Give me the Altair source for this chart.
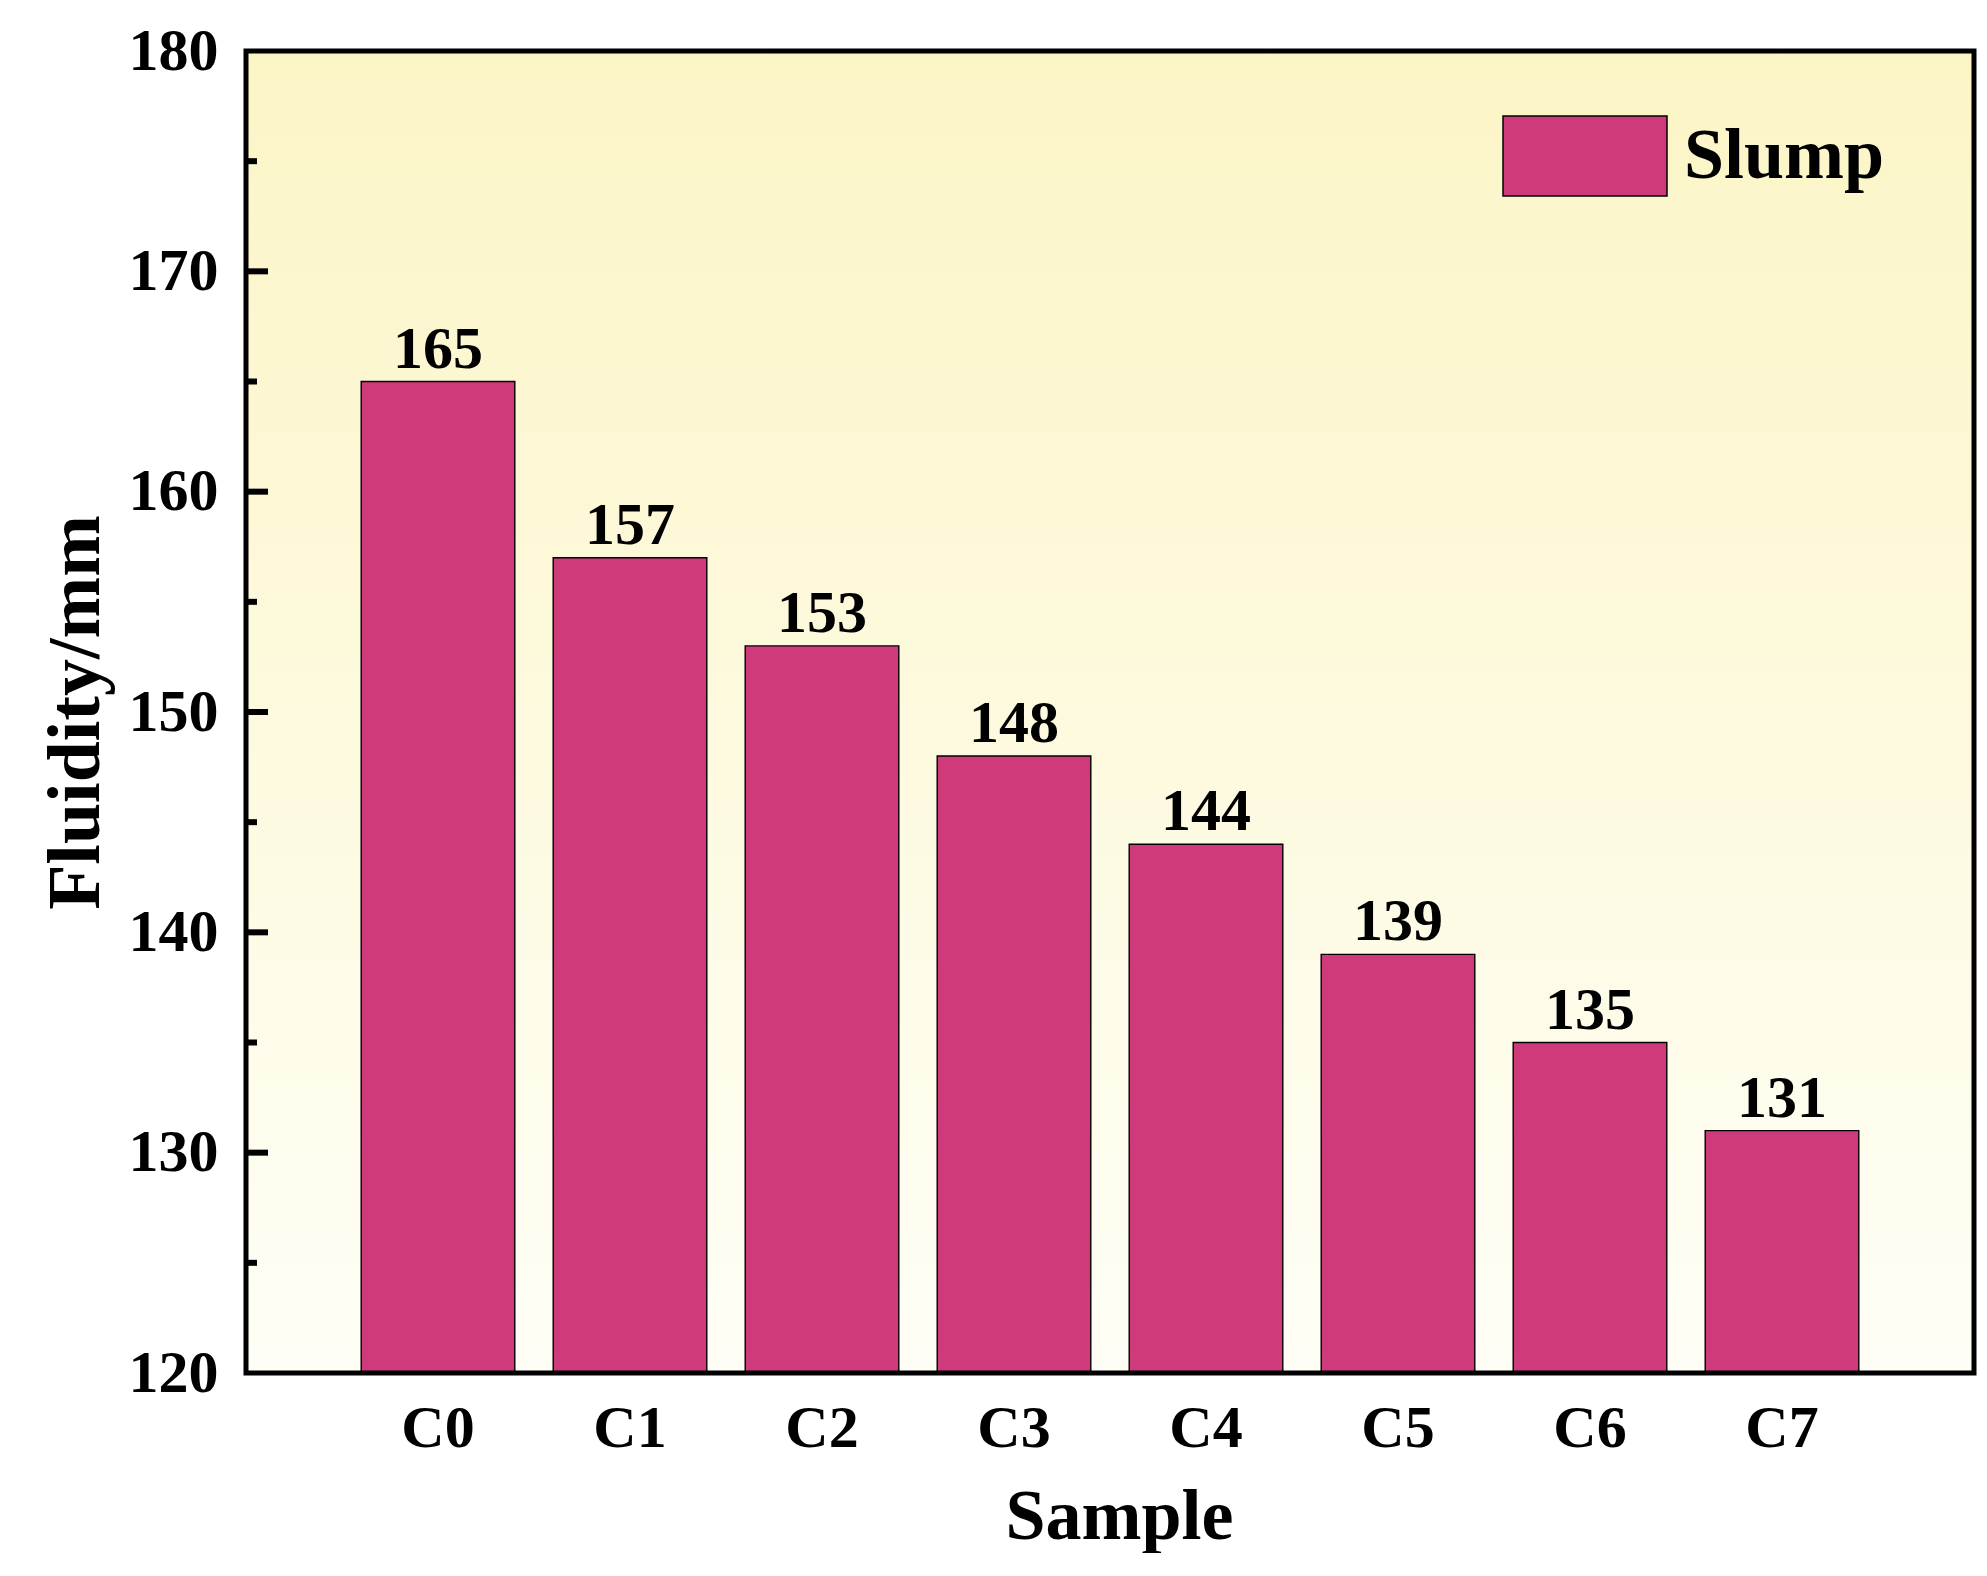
import altair as alt
import pandas as pd

samples = ["C0", "C1", "C2", "C3", "C4", "C5", "C6", "C7"]
fluidity = [165, 157, 153, 148, 144, 139, 135, 131]
series_name = "Slump"
major_ticks = [130, 140, 150, 160, 170]
minor_ticks = [125, 135, 145, 155, 165, 175]
y_labels = [120, 130, 140, 150, 160, 170, 180]

FONT = "Liberation Serif"
W, H = 1728, 1322

bars_df = pd.DataFrame({"sample": samples, "value": fluidity, "series": [series_name] * len(samples)})
major_df = pd.DataFrame({"value": major_ticks})
minor_df = pd.DataFrame({"value": minor_ticks})
one = pd.DataFrame({"k": [0]})

yscale = alt.Scale(domain=[120, 180], zero=False, nice=False)
xscale = alt.Scale(paddingInner=0.2, paddingOuter=0.6)

bg = alt.Chart(one).mark_rect(
    fill=alt.LinearGradient(
        gradient="linear",
        stops=[alt.GradientStop(color="#FBF5C6", offset=0),
               alt.GradientStop(color="#FFFEF6", offset=1)],
        x1=0, x2=0, y1=0, y2=1,
    ),
    strokeWidth=0,
).encode(x=alt.value(0), x2=alt.value("width"), y=alt.value(0), y2=alt.value("height"))

bars = alt.Chart(bars_df).mark_bar(stroke="black", strokeWidth=1.4, opacity=1).encode(
    x=alt.X("sample:N", sort=samples, scale=xscale, title="Sample",
            axis=alt.Axis(labelAngle=0, domain=False, ticks=False, labelFont=FONT,
                          labelFontSize=60, labelFontWeight="bold", labelColor="black",
                          labelBaseline="alphabetic", labelPadding=73,
                          titleFont=FONT, titleFontSize=72, titleFontWeight="bold",
                          titleColor="black", titleX=873, titleY=165,
                          titleBaseline="alphabetic", titleAnchor="start", titleAlign="center")),
    y=alt.Y("value:Q", scale=yscale, title="Fluidity/mm",
            axis=alt.Axis(values=y_labels, domain=False, ticks=False, grid=False,
                          labelFont=FONT, labelFontSize=60, labelFontWeight="bold",
                          labelColor="black", labelPadding=28,
                          titleFont=FONT, titleFontSize=74, titleFontWeight="bold",
                          titleColor="black", titleAngle=270, titleX=-148, titleY=661,
                          titleBaseline="alphabetic", titleAlign="center", titleAnchor="start")),
    y2=alt.datum(120),
    color=alt.Color("series:N", scale=alt.Scale(domain=[series_name], range=["#CF3B7A"]),
                    legend=alt.Legend(orient="none", legendX=1256, legendY=22, title=None,
                                      padding=0, symbolType="M-1,-0.4878H1V0.4878H-1Z",
                                      symbolSize=26896, symbolStrokeColor="black",
                                      symbolStrokeWidth=1.5, symbolOpacity=1,
                                      labelFont=FONT, labelFontSize=72, labelFontWeight="bold",
                                      labelColor="black", labelOffset=16, labelLimit=1000,
                                      labelBaseline="middle")),
)

labels = alt.Chart(bars_df).mark_text(
    font=FONT, fontSize=60, fontWeight="bold", color="black", baseline="alphabetic", dy=-14
).encode(
    x=alt.X("sample:N", sort=samples, scale=xscale),
    y=alt.Y("value:Q", scale=yscale),
    text=alt.Text("value:Q"),
)

major = alt.Chart(major_df).mark_rule(color="black", strokeWidth=6).encode(
    y=alt.Y("value:Q", scale=yscale), x=alt.value(0), x2=alt.value(22)
)
minor = alt.Chart(minor_df).mark_rule(color="black", strokeWidth=6).encode(
    y=alt.Y("value:Q", scale=yscale), x=alt.value(0), x2=alt.value(11)
)

frame = alt.Chart(one).mark_rect(fill="transparent", stroke="black", strokeWidth=5).encode(
    x=alt.value(0), x2=alt.value("width"), y=alt.value(0), y2=alt.value("height")
)

chart = alt.layer(bg, bars, labels, major, minor, frame).properties(
    width=W, height=H,
    autosize=alt.AutoSizeParams(type="none"),
    padding={"left": 238, "top": 43, "right": 5, "bottom": 180},
    background="white",
).configure_view(strokeWidth=0)

chart.save("out.html", embed_options={"renderer": "svg", "actions": False})
